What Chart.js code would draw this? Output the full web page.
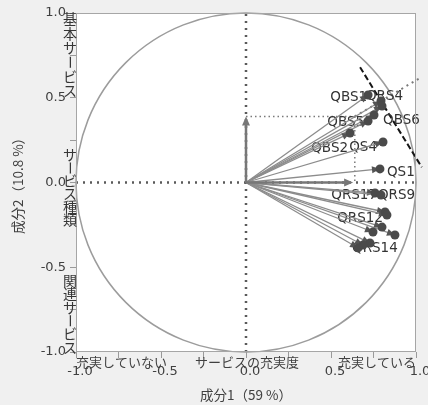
<!DOCTYPE html>
<html>
<head>
<meta charset="utf-8">
<script src="https://cdn.jsdelivr.net/npm/chart.js@4/dist/chart.umd.min.js"></script>
<style>
  html, body { margin: 0; padding: 0; background: #f0f0f0; }
</style>
</head>
<body>
<canvas id="myChart" width="428" height="405"></canvas>
<script>
// loadings (component 1, component 2)
const names = ['QBS1', 'QRS4', '', 'QBS6', 'QBS5', 'QBS2', 'QS4', 'QS1', 'QRS17', 'QRS9',
  '', '', 'QRS12', '', '', '', '', 'QRS14']
const comp1 = [0.718, 0.794, 0.800, 0.753, 0.718, 0.612, 0.806, 0.788, 0.759, 0.794,
  0.818, 0.829, 0.800, 0.747, 0.876, 0.729, 0.688, 0.659]
const comp2 = [0.516, 0.481, 0.451, 0.398, 0.363, 0.292, 0.239, 0.080, -0.062, -0.074,
  -0.174, -0.192, -0.263, -0.292, -0.310, -0.357, -0.369, -0.386]

// label placement next to each point: [dx, dy, align]
const labelOffsets = {
  QBS1: [-1, 2, 'right'], QRS4: [-15, -4, 'left'], QBS6: [9, 5, 'left'],
  QBS5: [-4, 2, 'right'], QBS2: [-2, 15, 'right'], QS4: [-6, 6, 'right'],
  QS1: [7, 4, 'left'], QRS17: [2, 2, 'right'], QRS9: [-3, 0, 'left'],
  QRS12: [1, -9, 'right'], QRS14: [-6, 1, 'left']
}

// reference marks
const axisArrowTips = [0.63, 0.39]
const boxCorner = [0.64, 0.39]
const diagEnd = [1.03, 0.62]
const dashStart = [0.671, 0.680]
const dashEnd = [1.034, 0.090]

const tickLabels = ['-1.0', '-0.5', '0.0', '0.5', '1.0']
const xTitle = '成分1（59 %）'
const yTitle = '成分2（10.8 %）'
const bottomTexts = ['充実していない', 'サービスの充実度', '充実している']
const sideTexts = ['基本サービス', 'サービス種類', '関連サービス']
const sideStart = [0.965, 0.162, -0.580]
const sideStep = [14.4, 13, 13.3]

const textGrey = '#404040'

function arrow (ctx, x0, y0, x1, y1, len, half) {
  const a = Math.atan2(y1 - y0, x1 - x0)
  ctx.beginPath()
  ctx.moveTo(x0, y0)
  ctx.lineTo(x1 - len * 0.6 * Math.cos(a), y1 - len * 0.6 * Math.sin(a))
  ctx.stroke()
  ctx.beginPath()
  ctx.moveTo(x1, y1)
  ctx.lineTo(x1 - len * Math.cos(a) + half * Math.sin(a), y1 - len * Math.sin(a) - half * Math.cos(a))
  ctx.lineTo(x1 - len * Math.cos(a) - half * Math.sin(a), y1 - len * Math.sin(a) + half * Math.cos(a))
  ctx.closePath()
  ctx.fill()
}

const biplot = {
  id: 'biplot',
  beforeDraw (chart) {
    const { ctx, chartArea: a } = chart
    ctx.save()
    ctx.fillStyle = '#f0f0f0'
    ctx.fillRect(0, 0, chart.width, chart.height)
    ctx.fillStyle = '#ffffff'
    ctx.fillRect(a.left, a.top, a.right - a.left, a.bottom - a.top)
    ctx.restore()
  },
  beforeDatasetsDraw (chart) {
    const { ctx, scales: { x, y } } = chart
    const px = v => x.getPixelForValue(v)
    const py = v => y.getPixelForValue(v)
    const seg = (p, q) => {
      ctx.beginPath()
      ctx.moveTo(px(p[0]), py(p[1]))
      ctx.lineTo(px(q[0]), py(q[1]))
      ctx.stroke()
    }
    ctx.save()

    // unit circle
    ctx.strokeStyle = '#9c9c9c'
    ctx.lineWidth = 1.5
    ctx.beginPath()
    ctx.ellipse(px(0), py(0), px(1) - px(0), py(0) - py(1), 0, 0, Math.PI * 2)
    ctx.stroke()

    // dotted axes through origin
    ctx.strokeStyle = '#5a5a5a'
    ctx.lineWidth = 2.5
    ctx.setLineDash([2, 5])
    seg([-1, 0], [1, 0])
    seg([0, -1], [0, 1])

    // dotted box and diagonal
    ctx.strokeStyle = '#7a7a7a'
    ctx.lineWidth = 1.5
    ctx.setLineDash([1.5, 3])
    seg([0, boxCorner[1]], boxCorner)
    seg(boxCorner, [boxCorner[0], 0])
    ctx.lineWidth = 2
    ctx.setLineDash([2, 4])
    seg(boxCorner, diagEnd)

    // dashed black line
    ctx.strokeStyle = '#151515'
    ctx.lineWidth = 2
    ctx.setLineDash([6, 3])
    seg(dashStart, dashEnd)
    ctx.setLineDash([])

    // labels
    ctx.font = '13.5px "DejaVu Sans"'
    ctx.fillStyle = '#333333'
    ctx.textBaseline = 'middle'
    names.forEach((n, i) => {
      if (!n) return
      const o = labelOffsets[n]
      ctx.textAlign = o[2]
      ctx.fillText(n, px(comp1[i]) + o[0], py(comp2[i]) + o[1])
    })

    // loading arrows
    ctx.strokeStyle = '#8c8c8c'
    ctx.fillStyle = '#555555'
    ctx.lineWidth = 1.3
    comp1.forEach((v, i) => {
      arrow(ctx, px(0), py(0), px(v), py(comp2[i]), 8, 3.5)
    })

    // axis arrows
    ctx.strokeStyle = '#777777'
    ctx.fillStyle = '#777777'
    ctx.lineWidth = 2.5
    arrow(ctx, px(0), py(0), px(axisArrowTips[0]), py(0), 9, 4)
    arrow(ctx, px(0), py(0), px(0), py(axisArrowTips[1]), 9, 4)
    ctx.restore()
  },
  afterDraw (chart) {
    const { ctx, chartArea: a, scales: { x, y } } = chart
    ctx.save()
    ctx.strokeStyle = '#a6a6a6'
    ctx.lineWidth = 1
    ctx.strokeRect(a.left + 0.5, a.top + 0.5, a.right - a.left - 1, a.bottom - a.top - 1)

    ctx.fillStyle = textGrey
    ctx.font = '13px "Noto Sans CJK JP"'
    ctx.textBaseline = 'middle'
    const by = a.bottom + 10
    ctx.textAlign = 'left'
    ctx.fillText(bottomTexts[0], x.getPixelForValue(-1), by)
    ctx.textAlign = 'center'
    ctx.fillText(bottomTexts[1], x.getPixelForValue(0) + 1, by)
    ctx.textAlign = 'right'
    ctx.fillText(bottomTexts[2], x.getPixelForValue(1), by)

    ctx.textAlign = 'center'
    ctx.fillStyle = '#363636'
    ctx.font = '14px "Noto Sans CJK JP"'
    const sx = a.left - 6
    sideTexts.forEach((t, k) => {
      let cy = y.getPixelForValue(sideStart[k])
      for (const ch of t) {
        if (ch === 'ー') {
          ctx.save()
          ctx.translate(sx, cy)
          ctx.rotate(Math.PI / 2)
          ctx.fillText(ch, 0, 0)
          ctx.restore()
        } else {
          ctx.fillText(ch, sx, cy)
        }
        cy += sideStep[k]
      }
    })
    ctx.restore()
  }
}

const tickCb = v => {
  const i = Math.round((v + 1) * 2)
  return Math.abs((v + 1) * 2 - i) < 1e-6 ? tickLabels[i] : ''
}

const axisCommon = {
  type: 'linear',
  min: -1,
  max: 1,
  border: { display: false },
  grid: { drawOnChartArea: false, drawTicks: true, tickLength: 6, color: '#9a9a9a' },
  ticks: {
    stepSize: 0.25,
    autoSkip: false,
    maxRotation: 0,
    color: textGrey,
    font: { family: 'DejaVu Sans', size: 13 },
    callback: tickCb
  },
  title: {
    display: true,
    color: textGrey,
    font: { family: 'Noto Sans CJK JP', size: 13.5 }
  }
}

new Chart(document.getElementById('myChart'), {
  type: 'scatter',
  data: {
    datasets: [{
      data: comp1.map((v, i) => ({ x: v, y: comp2[i] })),
      pointRadius: 4.5,
      pointHoverRadius: 4.5,
      backgroundColor: '#4a4a4a',
      borderColor: '#4a4a4a',
      borderWidth: 0
    }]
  },
  options: {
    responsive: false,
    animation: false,
    events: [],
    layout: { padding: { top: 13, right: 12, left: 0, bottom: 0 } },
    plugins: { legend: { display: false }, tooltip: { enabled: false } },
    scales: {
      x: {
        ...axisCommon,
        position: 'bottom',
        afterFit: s => { s.height = 53; s.paddingLeft = 0; s.paddingRight = 0 },
        ticks: { ...axisCommon.ticks, padding: 6, labelOffset: 4 },
        title: { ...axisCommon.title, text: xTitle, padding: { top: 0, bottom: 2 } }
      },
      y: {
        ...axisCommon,
        position: 'left',
        afterFit: s => { s.width = 76; s.paddingTop = 0; s.paddingBottom = 0 },
        ticks: { ...axisCommon.ticks, padding: 4 },
        title: { ...axisCommon.title, text: yTitle, padding: { top: 10, bottom: 0 } }
      }
    }
  },
  plugins: [biplot]
})
</script>
</body>
</html>
